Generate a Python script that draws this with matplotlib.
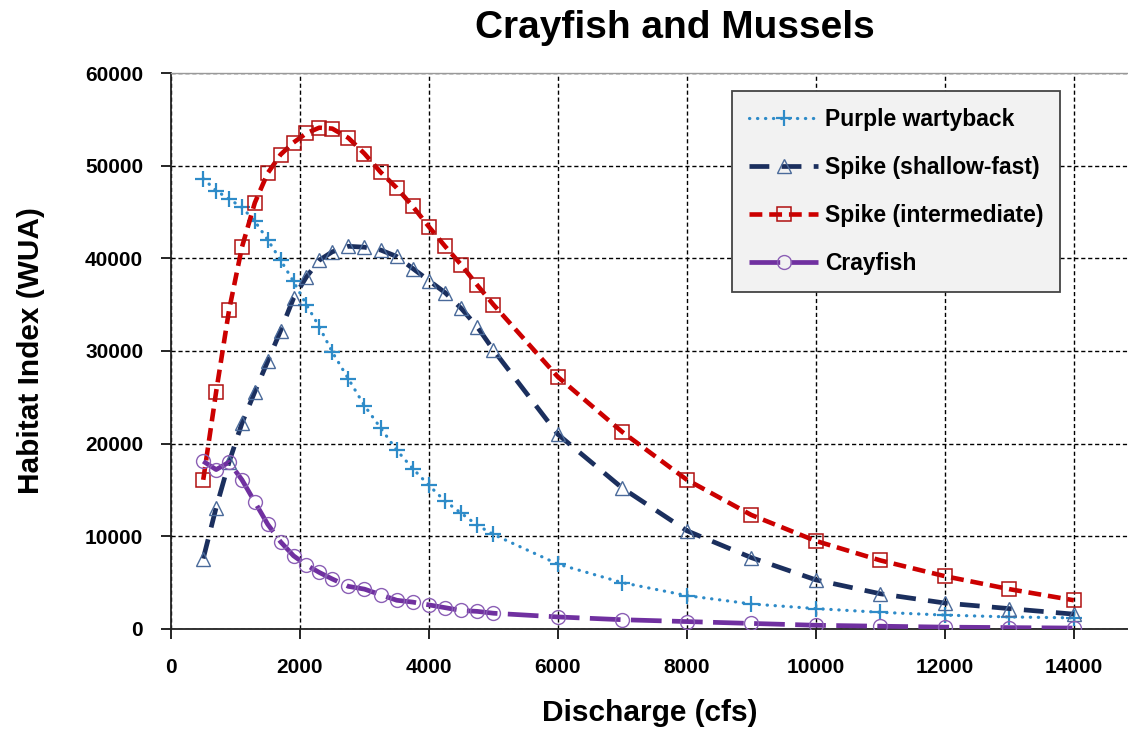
import matplotlib
matplotlib.use("Agg")
import matplotlib.pyplot as plt

plt.rcParams['font.family'] = ['Liberation Sans', 'DejaVu Sans']
plt.rcParams['font.weight'] = 'bold'

discharge = [500, 700, 900, 1100, 1300, 1500, 1700, 1900, 2100, 2300, 2500,
             2750, 3000, 3250, 3500, 3750, 4000, 4250, 4500, 4750, 5000,
             6000, 7000, 8000, 9000, 10000, 11000, 12000, 13000, 14000]

purple_wartyback = [48600, 47300, 46400, 45500, 44000, 42000, 39800, 37500, 35000, 32600, 29900,
                    27000, 24100, 21700, 19300, 17300, 15500, 13800, 12500, 11200, 10200,
                    7000, 5000, 3600, 2700, 2200, 1800, 1500, 1300, 1200]

spike_shallow_fast = [7600, 13100, 18000, 22200, 25600, 28900, 32200, 35700, 38000, 39800, 40700,
                      41300, 41200, 40900, 40200, 38900, 37600, 36300, 34600, 32600, 30100,
                      21000, 15200, 10600, 7700, 5300, 3800, 2800, 2200, 1600]

spike_intermediate = [16100, 25600, 34400, 41200, 46000, 49200, 51200, 52500, 53500, 54100, 54000,
                      53000, 51300, 49300, 47600, 45600, 43400, 41300, 39300, 37100, 35000,
                      27200, 21250, 16100, 12300, 9500, 7400, 5700, 4300, 3100]

crayfish = [18100, 17200, 18000, 16100, 13700, 11300, 9400, 7900, 6900, 6100, 5400,
            4600, 4300, 3700, 3100, 2900, 2600, 2300, 2000, 1900, 1700,
            1300, 1000, 800, 600, 400, 300, 200, 150, 100]

x_ticks = [0, 2000, 4000, 6000, 8000, 10000, 12000, 14000]
y_ticks = [0, 10000, 20000, 30000, 40000, 50000, 60000]

fig = plt.figure(figsize=(11.28, 7.33), dpi=100)
ax = fig.add_axes([0.1516, 0.1419, 0.8484, 0.7585])

ax.plot(discharge, purple_wartyback, color='#2E8BC8', lw=2.3, linestyle=(0, (0.1, 2.4)),
        dash_capstyle='round', marker='+', markersize=12, markeredgewidth=1.6,
        markeredgecolor='#2E8BC8', label='Purple wartyback', zorder=3)
ax.plot(discharge, spike_shallow_fast, color='#1B2F5E', lw=3.4, linestyle=(0, (4.2, 2.6)),
        marker='^', markersize=10.5, markerfacecolor='none', markeredgewidth=1.0,
        markeredgecolor='#4A6A9A', label='Spike (shallow-fast)', zorder=3)
ax.plot(discharge, spike_intermediate, color='#CC0000', lw=3.3, linestyle=(0, (2.8, 1.5)),
        marker='s', markersize=10, markerfacecolor='none', markeredgewidth=1.1,
        markeredgecolor='#B01010', label='Spike (intermediate)', zorder=3)
ax.plot(discharge, crayfish, color='#7030A0', lw=3.4, linestyle=(0, (6.5, 2.2)),
        marker='o', markersize=10, markerfacecolor='none', markeredgewidth=1.0,
        markeredgecolor='#8B5FB5', label='Crayfish', zorder=3)

ax.set_xlim(0, 14840)
ax.set_ylim(0, 60000)
ax.set_xticks(x_ticks)
ax.set_yticks(y_ticks)
ax.set_xticklabels([str(v) for v in x_ticks])
ax.set_yticklabels([str(v) for v in y_ticks])
ax.tick_params(axis='both', direction='out', length=7, width=1.2, labelsize=15)
ax.tick_params(axis='y', pad=13)
ax.tick_params(axis='x', pad=14)
for lbl in ax.get_xticklabels() + ax.get_yticklabels():
    lbl.set_fontweight('bold')

ax.grid(True, which='major', color='black', linestyle=(0, (3, 2)), linewidth=1.0, zorder=1)
ax.set_axisbelow(True)

ax.spines['left'].set_color('#222222')
ax.spines['left'].set_linewidth(1.3)
ax.spines['bottom'].set_color('#222222')
ax.spines['bottom'].set_linewidth(1.3)
ax.spines['top'].set_color('#999999')
ax.spines['top'].set_linewidth(1.0)
ax.spines['right'].set_visible(False)

ax.set_xlabel('Discharge (cfs)', fontsize=21.5, fontweight='bold', labelpad=16)
ax.set_ylabel('Habitat Index (WUA)', fontsize=21.5, fontweight='bold', labelpad=29)
fig.text(0.598, 0.962, 'Crayfish and Mussels', fontsize=28, fontweight='bold',
         ha='center', va='center')

leg = ax.legend(loc='upper left', bbox_to_anchor=(0.649, 0.8755), bbox_transform=fig.transFigure,
                fontsize=16.5, frameon=True, fancybox=False, framealpha=1.0,
                facecolor='#F2F2F2', edgecolor='#444444', borderpad=0.72,
                labelspacing=1.1, handlelength=3.05, handletextpad=0.3, borderaxespad=0)
leg.get_frame().set_linewidth(1.3)
for t in leg.get_texts():
    t.set_fontweight('bold')

fig.savefig('out.png', dpi=100)
